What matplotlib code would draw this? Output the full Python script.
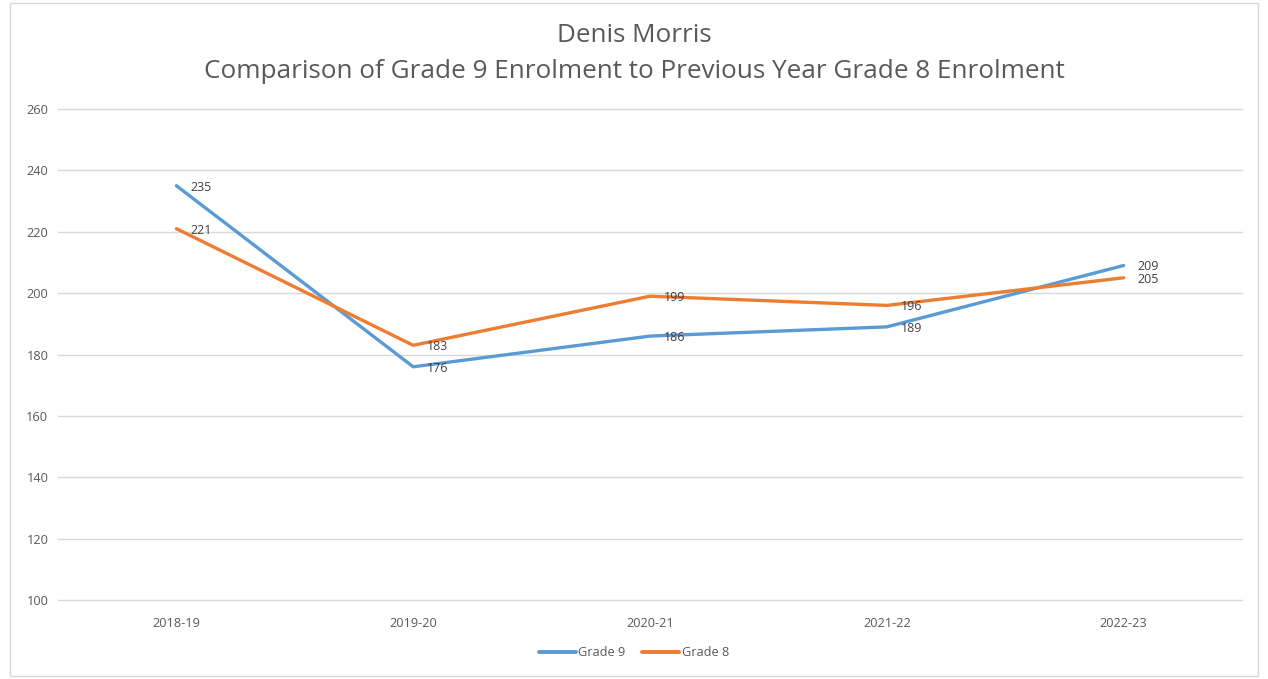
import matplotlib.pyplot as plt
from matplotlib.patches import Rectangle

# data
years = ["2018-19", "2019-20", "2020-21", "2021-22", "2022-23"]
grade9 = [235, 176, 186, 189, 209]
grade8 = [221, 183, 199, 196, 205]

blue = "#5B9BD5"
orange = "#ED7D31"
txt = "#595959"

plt.rcParams['font.family'] = ['Open Sans', 'DejaVu Sans']

fig = plt.figure(figsize=(12.68, 6.79), dpi=100)
ax = fig.add_axes([58 / 1268, 1 - 600 / 679, (1242 - 58) / 1268, (600 - 109) / 679])

x = list(range(len(years)))
ax.plot(x, grade9, color=blue, lw=2.4, label="Grade 9", solid_capstyle="round")
ax.plot(x, grade8, color=orange, lw=2.4, label="Grade 8", solid_capstyle="round")

for xi, v in zip(x, grade9):
    ax.annotate(str(v), (xi, v), xytext=(10, -1), textcoords="offset points",
                ha="left", va="center", fontsize=9, color="#404040")
for xi, v in zip(x, grade8):
    ax.annotate(str(v), (xi, v), xytext=(10, -1), textcoords="offset points",
                ha="left", va="center", fontsize=9, color="#404040")

ax.set_xlim(-0.5, len(years) - 0.5)
ax.set_ylim(100, 260)
ax.set_yticks(range(100, 261, 20))
ax.set_xticks(x)
ax.set_xticklabels(years)
ax.tick_params(length=0, labelsize=9.2, labelcolor=txt)
ax.tick_params(axis="y", pad=7)
ax.tick_params(axis="x", pad=12)
ax.grid(axis="y", color="#D9D9D9", lw=1)
for gl in ax.get_ygridlines():
    gl.set_clip_on(False)
ax.set_axisbelow(True)
for s in ax.spines.values():
    s.set_visible(False)

fig.text(0.5, 1 - 36 / 679, "Denis Morris", ha="center", va="center", fontsize=18.8, color=txt)
fig.text(0.5, 1 - 72 / 679, "Comparison of Grade 9 Enrolment to Previous Year Grade 8 Enrolment",
         ha="center", va="center", fontsize=18.8, color=txt)

leg = fig.legend(loc="center", bbox_to_anchor=(0.5, 1 - 653 / 679), ncol=2, frameon=False,
                 fontsize=9.2, handlelength=2.9, handletextpad=0.2, columnspacing=1.3)
for t in leg.get_texts():
    t.set_color(txt)
for h in leg.get_lines():
    h.set_linewidth(2.8)

fig.patches.append(Rectangle((10 / 1268, 3 / 679), 1248 / 1268, 673 / 679, transform=fig.transFigure,
                             fill=False, edgecolor="#D9D9D9", lw=1))

fig.savefig("out.png", dpi=100)
